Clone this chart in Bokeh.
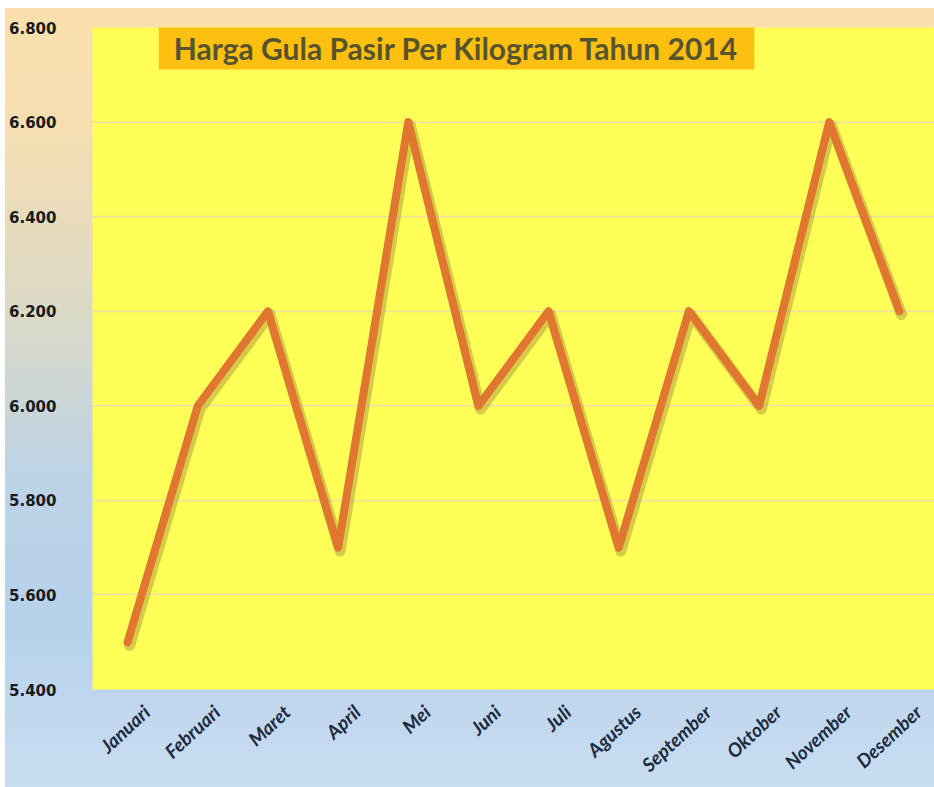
from bokeh.plotting import figure
from bokeh.models import ColumnDataSource, FixedTicker, Label, Range1d
from bokeh.transform import dodge
from bokeh.embed import file_html
from bokeh.resources import INLINE

months = ["Januari", "Februari", "Maret", "April", "Mei", "Juni", "Juli",
          "Agustus", "September", "Oktober", "November", "Desember"]
harga = [5500, 6000, 6200, 5700, 6600, 6000, 6200, 5700, 6200, 6000, 6600, 6200]
y_ticks = [5400, 5600, 5800, 6000, 6200, 6400, 6600, 6800]
y_tick_labels = ["5.400", "5.600", "5.800", "6.000", "6.200", "6.400", "6.600", "6.800"]
title_text = "Harga Gula Pasir Per Kilogram Tahun 2014"

xs = list(range(len(months)))
src = ColumnDataSource(dict(x=xs, harga=harga, bulan=months))

p = figure(width=934, height=787, output_backend="svg", toolbar_location=None,
           x_range=Range1d(-0.5, len(months) - 0.5),
           y_range=Range1d(y_ticks[0], y_ticks[-1]),
           min_border_left=92, min_border_right=0, min_border_top=27,
           min_border_bottom=98)
p.styles = {"background": "linear-gradient(to bottom, #FBE0AC 0%, #F5DEB2 16%, #DAD9C8 40%, #BDD3E6 60%, #B8D2EC 80%, #C9DDF1 100%) 5px 8px / calc(100% - 5px) calc(100% - 8px) no-repeat, #FFFFFF"}
p.border_fill_color = None
p.background_fill_color = "#FFFF57"
p.outline_line_color = None

# x axis: labels hang slightly right of each point, like the original
lab_shift = 0.27
x_label_pos = [i + lab_shift for i in xs]
p.xaxis.ticker = FixedTicker(ticks=x_label_pos)
p.xaxis.major_label_overrides = {t: m for t, m in zip(x_label_pos, months)}
p.xaxis.major_label_orientation = 0.75
p.xaxis.major_label_text_font = "Lato"
p.xaxis.major_label_text_font_style = "bold italic"
p.xaxis.major_label_text_font_size = "19px"
p.xaxis.major_label_text_color = "#1C2A3F"
p.xaxis.major_label_standoff = 13

p.yaxis.ticker = FixedTicker(ticks=y_ticks)
p.yaxis.major_label_overrides = {t: l for t, l in zip(y_ticks, y_tick_labels)}
p.yaxis.major_label_text_font = "DejaVu Sans"
p.yaxis.major_label_text_font_style = "bold"
p.yaxis.major_label_text_font_size = "15px"
p.yaxis.major_label_text_color = "#1A1A1A"
p.yaxis.major_label_standoff = 30

for ax in (p.xaxis, p.yaxis):
    ax.axis_line_color = None
    ax.major_tick_line_color = None
    ax.minor_tick_line_color = None

p.xgrid.visible = False
p.ygrid.ticker = FixedTicker(ticks=y_ticks)
p.ygrid.grid_line_color = "#EEDDA0"
p.ygrid.grid_line_width = 1.5

# line with soft drop shadow
p.line(dodge("x", 0.03), dodge("harga", -7), source=src, line_color="#7A4E22",
       line_alpha=0.3, line_width=11, line_join="round", line_cap="round")
p.line("x", "harga", source=src, line_color="#E0762F", line_width=8,
       line_join="round", line_cap="round")

title = Label(x=364, y=642, x_units="screen", y_units="screen", text=title_text,
              text_align="center", text_baseline="middle", text_font="Lato",
              text_font_style="bold", text_font_size="30px", text_color="#58532F",
              background_fill_color="#FDBF10",
              padding=dict(left=15, right=15, top=4, bottom=4))
p.add_layout(title)

open("out.html", "w").write(file_html(p, INLINE))
